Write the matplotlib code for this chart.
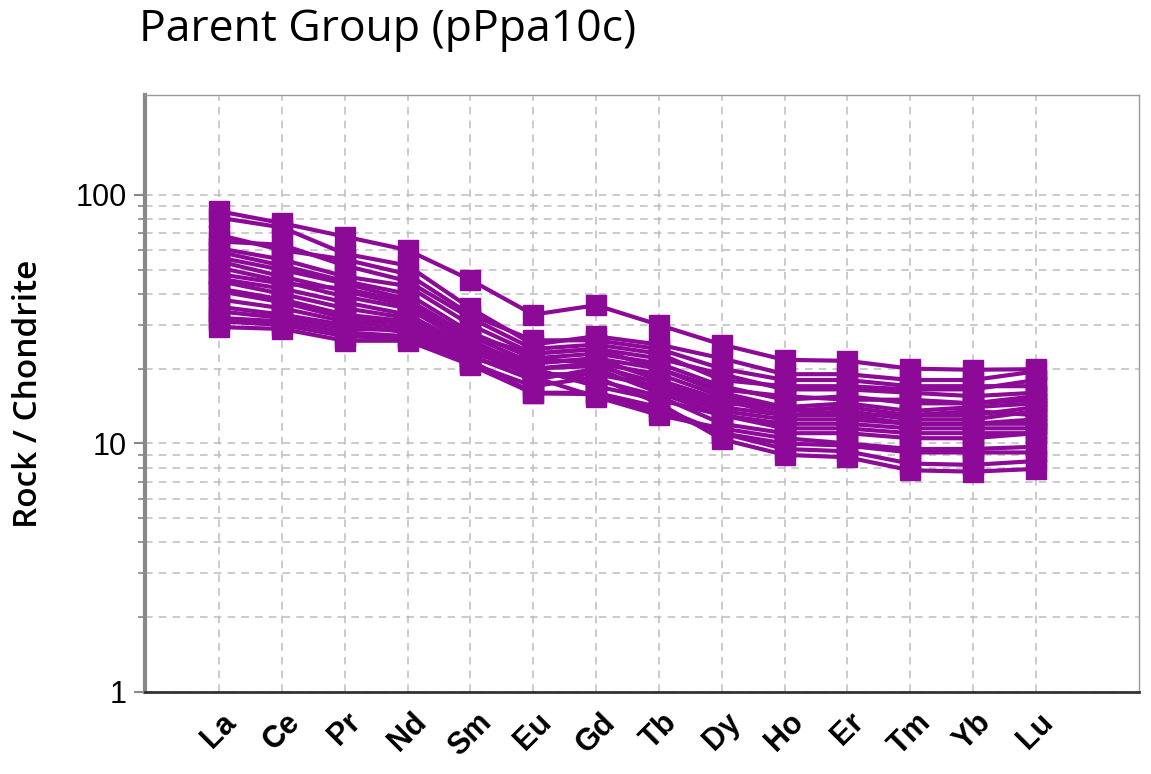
import numpy as np
import matplotlib
matplotlib.use('Agg')
import matplotlib.pyplot as plt
from matplotlib.ticker import FixedLocator, NullFormatter

plt.rcParams['font.family'] = ['Liberation Sans', 'DejaVu Sans']

# REE elements along the x axis
elements = ['La', 'Ce', 'Pr', 'Nd', 'Sm', 'Eu', 'Gd', 'Tb', 'Dy', 'Ho', 'Er', 'Tm', 'Yb', 'Lu']

# chondrite normalised values, one list per sample
s01 = [86, 77, 68, 60, 45.5, 33, 36, 30, 25, 21.7, 21.5, 20, 19.8, 19.9]
s02 = [81, 74, 58, 52, 35, 25, 27, 25, 22, 19, 19, 18, 18, 19.5]
s03 = [69, 60, 55, 48, 33, 26, 26, 24, 20, 18, 18, 17, 17, 17]
s04 = [61, 55, 47, 43, 30, 23, 24, 22, 19, 16.5, 16.5, 16, 15.5, 16]
s05 = [59, 52, 45, 40, 28, 22, 23, 21, 17, 15, 15.5, 14.5, 14.5, 15]
s06 = [56, 50, 44, 38, 27, 21, 22, 20, 16, 14, 14.5, 13.5, 14, 14.5]
s07 = [54, 47, 41, 36, 26, 20, 21, 19, 15.5, 13.5, 14, 13, 13, 14]
s08 = [51, 45, 39, 35, 25, 21, 22, 18, 15, 13, 13.5, 12.5, 12.5, 13.5]
s09 = [46, 42, 37, 33, 24.5, 20, 20.5, 17.5, 14.5, 14, 13, 13, 13.5, 13]
s10 = [45, 40, 35, 32, 24, 19, 19, 17, 14, 13, 13, 12, 12, 12.5]
s11 = [42, 38, 33, 31, 23.5, 22, 21, 16.5, 13.5, 12.5, 12.5, 12, 12, 12]
s12 = [41, 37, 32, 30, 23, 20, 17, 15, 13, 12, 12, 11.5, 11.5, 11.5]
s13 = [38, 35, 31, 29, 22.5, 18, 20, 16, 13, 11.5, 11.5, 11, 11, 11]
s14 = [35.5, 33, 30, 28, 22, 19.5, 18, 15.5, 12, 11, 11, 10.5, 10.5, 11]
s15 = [34, 32, 29, 28.5, 24, 18.5, 15.4, 13, 11.5, 10.5, 10, 9.5, 9.5, 9.7]
s16 = [32, 31, 28, 27, 21.5, 16, 16, 14, 11, 10, 9.8, 9.2, 9.2, 9.2]
s17 = [31, 30, 27, 26.5, 21, 17, 18.5, 14.5, 10.4, 9, 8.8, 7.8, 7.7, 7.9]
s18 = [29.4, 28.9, 25.9, 25.9, 20.7, 15.9, 15.8, 13.5, 11, 9.5, 9.3, 8.3, 8.2, 8.5]
s19 = [48, 44, 42, 37, 27, 23, 24, 20, 16.5, 15.5, 15, 15, 14.5, 15.5]
s20 = [65, 63, 52, 45, 32, 24, 25, 23, 18, 17, 17, 16.5, 16.5, 18]

samples = [s01, s02, s03, s04, s05, s06, s07, s08, s09, s10,
           s11, s12, s13, s14, s15, s16, s17, s18, s19, s20]

purple = '#8D0A99'

fig = plt.figure(figsize=(11.51, 7.74), dpi=100)
ax = fig.add_axes([0.126, 0.106, 0.864, 0.771])

x = np.arange(len(elements))
for s in samples:
    ax.plot(x, s, color=purple, lw=3, marker='s', ms=15,
            markeredgecolor=purple, solid_joinstyle='round')

ax.set_yscale('log')
ax.set_ylim(1, 252)
ax.set_xlim(-1.18, 14.65)

# grid
minor = [m * d for d in (1, 10) for m in range(2, 10)]
ax.yaxis.set_major_locator(FixedLocator([1, 10, 100]))
ax.yaxis.set_minor_locator(FixedLocator(minor))
ax.yaxis.set_minor_formatter(NullFormatter())
ax.set_yticklabels(['1', '10', '100'])
ax.grid(True, which='both', axis='y', ls=(0, (5, 4)), color='#bdbdbd', lw=1.1)
ax.grid(True, which='major', axis='x', ls=(0, (5, 4)), color='#bdbdbd', lw=1.1)
ax.set_axisbelow(True)

ax.set_xticks(x)
ax.set_xticklabels(elements, rotation=45, fontsize=22, fontweight='bold')
ax.tick_params(axis='x', length=0, pad=11)
ax.tick_params(axis='y', which='major', length=8, width=1.5, color='#888888',
               labelsize=22, pad=5)
ax.tick_params(axis='y', which='minor', length=5, width=1.2, color='#888888')

ax.spines['left'].set_color('#888888')
ax.spines['left'].set_linewidth(3)
ax.spines['bottom'].set_color('#333333')
ax.spines['bottom'].set_linewidth(2)
ax.spines['top'].set_color('#999999')
ax.spines['top'].set_linewidth(1)
ax.spines['right'].set_color('#999999')
ax.spines['right'].set_linewidth(1)

ax.set_ylabel('Rock / Chondrite', fontsize=24, fontweight='semibold',
              family='Open Sans', labelpad=22)

fig.text(0.121, 0.962, 'Parent Group (pPpa10c)', fontsize=32,
         family='Open Sans', va='center', ha='left')

fig.savefig('out.png', dpi=100)
